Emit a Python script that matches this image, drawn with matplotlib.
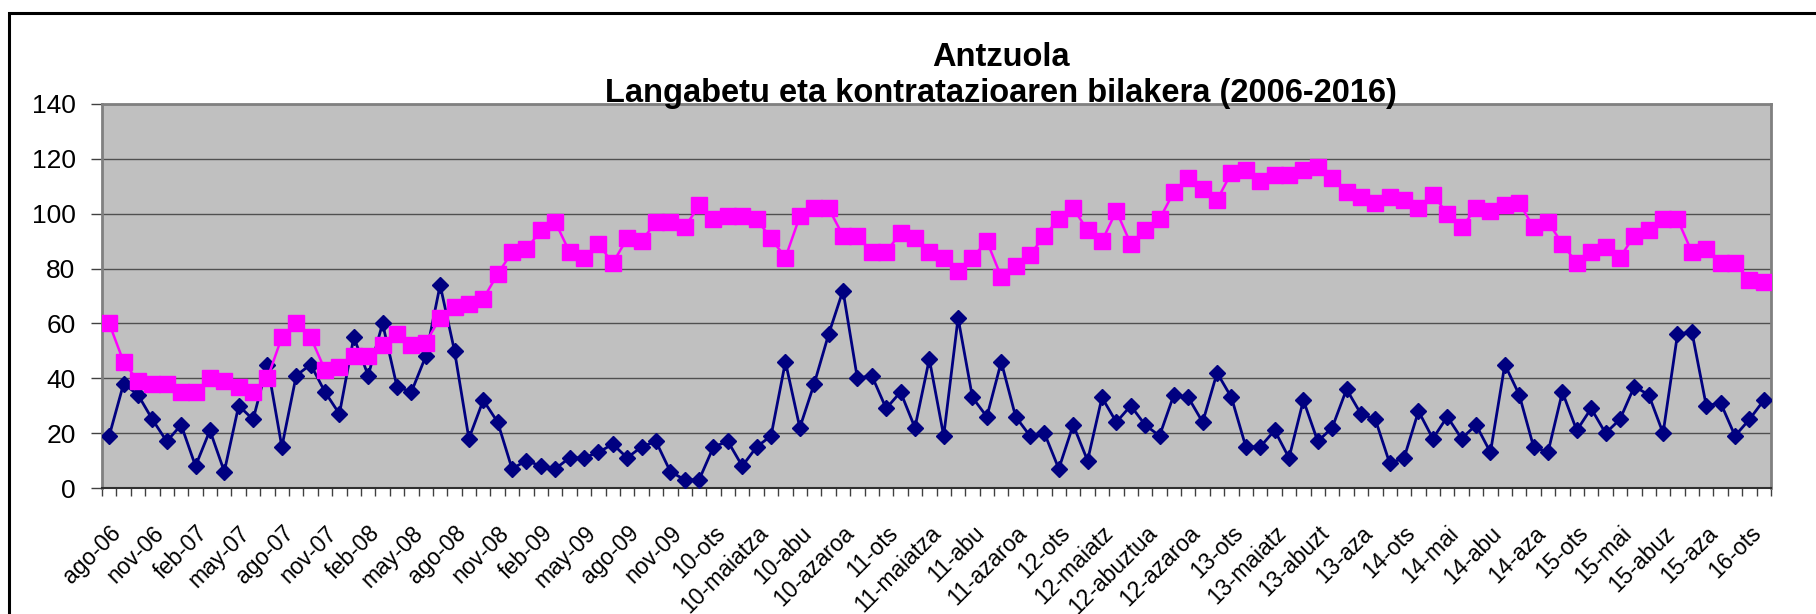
import matplotlib
matplotlib.use('Agg')
import matplotlib.pyplot as plt
from matplotlib.patches import Rectangle
from matplotlib.transforms import ScaledTranslation

plt.rcParams['font.family'] = ['Liberation Sans', 'DejaVu Sans']

# monthly, ago-06 .. mar-16
langabetu = [60, 46, 39, 38, 38, 35, 35, 40, 39, 37, 35, 40, 55, 60, 55, 43, 44, 48, 48, 52,
             56, 52, 53, 62, 66, 67, 69, 78, 86, 87, 94, 97, 86, 84, 89, 82, 91, 90, 97, 97,
             95, 103, 98, 99, 99, 98, 91, 84, 99, 102, 102, 92, 92, 86, 86, 93, 91, 86, 84, 79,
             84, 90, 77, 81, 85, 92, 98, 102, 94, 90, 101, 89, 94, 98, 108, 113, 109, 105, 115, 116,
             112, 114, 114, 116, 117, 113, 108, 106, 104, 106, 105, 102, 107, 100, 95, 102, 101, 103, 104, 95,
             97, 89, 82, 86, 88, 84, 92, 94, 98, 98, 86, 87, 82, 82, 76, 75]
kontratuak = [19, 38, 34, 25, 17, 23, 8, 21, 6, 30, 25, 45, 15, 41, 45, 35, 27, 55, 41, 60,
              37, 35, 48, 74, 50, 18, 32, 24, 7, 10, 8, 7, 11, 11, 13, 16, 11, 15, 17, 6,
              3, 3, 15, 17, 8, 15, 19, 46, 22, 38, 56, 72, 40, 41, 29, 35, 22, 47, 19, 62,
              33, 26, 46, 26, 19, 20, 7, 23, 10, 33, 24, 30, 23, 19, 34, 33, 24, 42, 33, 15,
              15, 21, 11, 32, 17, 22, 36, 27, 25, 9, 11, 28, 18, 26, 18, 23, 13, 45, 34, 15,
              13, 35, 21, 29, 20, 25, 37, 34, 20, 56, 57, 30, 31, 19, 25, 32]

tick_labels = ['ago-06', 'nov-06', 'feb-07', 'may-07', 'ago-07', 'nov-07', 'feb-08', 'may-08',
               'ago-08', 'nov-08', 'feb-09', 'may-09', 'ago-09', 'nov-09', '10-ots', '10-maiatza',
               '10-abu', '10-azaroa', '11-ots', '11-maiatza', '11-abu', '11-azaroa', '12-ots',
               '12-maiatz', '12-abuztua', '12-azaroa', '13-ots', '13-maiatz', '13-abuzt', '13-aza',
               '14-ots', '14-mai', '14-abu', '14-aza', '15-ots', '15-mai', '15-abuz', '15-aza', '16-ots']

n = len(kontratuak)
x = list(range(n))

fig = plt.figure(figsize=(18.16, 6.14), dpi=100)
ax = fig.add_axes([0.05617, 0.20521, 0.91905, 0.62541])
ax.set_facecolor('#C0C0C0')

ax.plot(x, kontratuak, '-', color='#000080', lw=2.0, marker='D', ms=8, zorder=3)
ax.plot(x, langabetu, '-', color='#FF00FF', lw=1.8, marker='s', ms=11, zorder=4)

ax.set_xlim(-0.5, n - 0.5)
ax.set_ylim(0, 140)
ax.set_yticks(range(0, 141, 20))
ax.yaxis.grid(True, color='#505050', lw=1.0)
ax.set_axisbelow(True)

ax.set_xticks([i - 0.5 for i in range(n + 1)], minor=True)
ax.set_xticks(range(0, len(tick_labels) * 3, 3))
ax.set_xticklabels(tick_labels, rotation=45, ha='right', va='center', rotation_mode='anchor', fontsize=16.5)
ax.tick_params(axis='x', which='major', length=0, pad=30)
ax.tick_params(axis='x', which='minor', length=6, color='#404040', width=1)
ax.tick_params(axis='y', length=8, color='#404040', width=1, labelsize=19, pad=11)
off = ScaledTranslation(8 / 100, 0, fig.dpi_scale_trans)
for lab in ax.get_xticklabels():
    lab.set_transform(lab.get_transform() + off)

for s in ['top', 'right', 'left']:
    ax.spines[s].set_color('#808080')
    ax.spines[s].set_linewidth(2)
ax.spines['bottom'].set_color('#303030')
ax.spines['bottom'].set_linewidth(1.5)

fig.text(0.5512, 0.8925, 'Antzuola', ha='center', va='baseline', fontsize=23.5, fontweight='bold')
fig.text(0.5512, 0.8339, 'Langabetu eta kontratazioaren bilakera (2006-2016)', ha='center',
         va='baseline', fontsize=23.5, fontweight='bold')

fig.patches.append(Rectangle((0.00496, -0.2), 1.2, 1.2 - 0.0212, transform=fig.transFigure,
                             fill=False, edgecolor='black', lw=2.2, clip_on=False))

fig.savefig('out.png', dpi=100)
